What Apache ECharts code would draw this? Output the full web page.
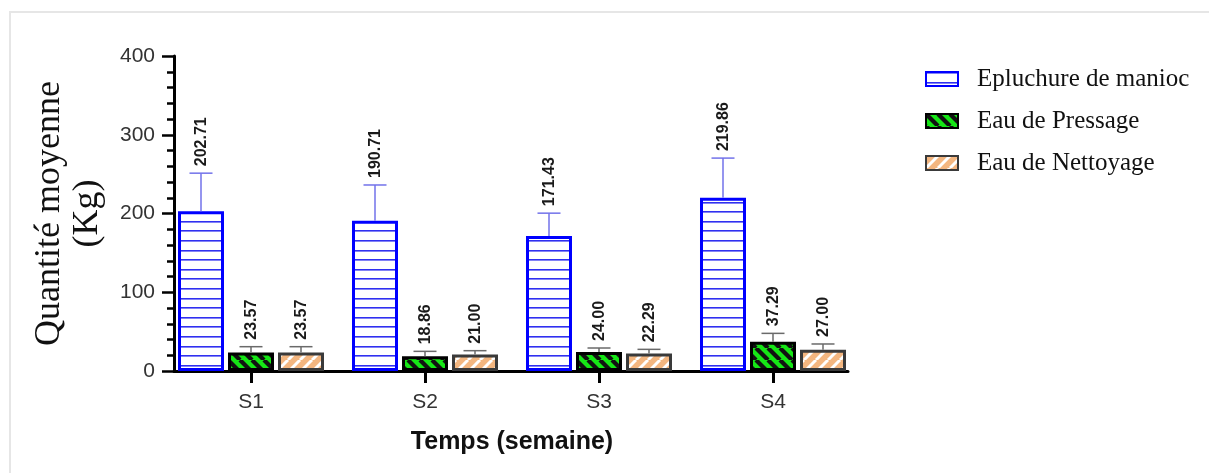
<!DOCTYPE html>
<html><head><meta charset="utf-8">
<script src="https://cdn.jsdelivr.net/npm/echarts@6/dist/echarts.min.js"></script>
<style>
html,body{margin:0;padding:0;background:#fff;}
#frame{position:absolute;left:9px;top:11px;width:1200px;height:462px;border-top:2px solid #e6e6e6;border-left:2px solid #e6e6e6;box-sizing:border-box;}
#chart{position:absolute;left:0;top:0;width:1209px;height:473px;}
</style></head><body>
<div id="frame"></div><div id="chart"></div>
<script>
// ---- data ----
const categories = ['S1', 'S2', 'S3', 'S4'];
const seriesNames = ['Epluchure de manioc', 'Eau de Pressage', 'Eau de Nettoyage'];
const epluchureMean = [202.71, 190.71, 171.43, 219.86];
const epluchureSD = [48.5, 45.5, 29.0, 50.5];
const pressageMean = [23.57, 18.86, 24.00, 37.29];
const pressageSD = [7.3, 6.1, 5.2, 10.5];
const nettoyageMean = [23.57, 21.00, 22.29, 27.00];
const nettoyageSD = [7.3, 4.8, 5.2, 7.3];
const yTicks = [0, 100, 200, 300, 400];

// ---- layout constants ----
const BAR_W = 46, BAR_GAP = 4, CAP = 23;

function makePattern(kind) {
  const c = document.createElement('canvas');
  if (kind === 'blue') {
    c.width = 8; c.height = 48;
    const g = c.getContext('2d');
    g.fillStyle = '#ffffff'; g.fillRect(0, 0, 8, 48);
    g.fillStyle = '#3030f0';
    for (let k = 0; k < 5; k++) { g.fillRect(0, Math.round(k * 9.6), 8, 1.6); }
  } else if (kind === 'green') {
    c.width = 12; c.height = 12;
    const g = c.getContext('2d');
    g.fillStyle = '#16e616'; g.fillRect(0, 0, 12, 12);
    g.strokeStyle = '#111'; g.lineWidth = 4.2;
    for (let x0 = -12; x0 <= 12; x0 += 12) { g.beginPath(); g.moveTo(x0, 0); g.lineTo(x0 + 12, 12); g.stroke(); }
  } else {
    c.width = 12; c.height = 12;
    const g = c.getContext('2d');
    g.fillStyle = '#f3b680'; g.fillRect(0, 0, 12, 12);
    g.strokeStyle = '#ffffff'; g.lineWidth = 3;
    for (let x0 = -12; x0 <= 12; x0 += 12) { g.beginPath(); g.moveTo(x0, 12); g.lineTo(x0 + 12, 0); g.stroke(); }
  }
  return { image: c, repeat: 'repeat' };
}

const barStyles = [
  { color: makePattern('blue'), borderColor: '#0000ff', borderWidth: 3 },
  { color: makePattern('green'), borderColor: '#000000', borderWidth: 3 },
  { color: makePattern('orange'), borderColor: '#3a3a3a', borderWidth: 3 }
];
const errColors = ['#7272ea', '#6a6a6a', '#6a6a6a'];
const means = [epluchureMean, pressageMean, nettoyageMean];
const sds = [epluchureSD, pressageSD, nettoyageSD];

function makeBar(i) {
  return {
    type: 'bar', name: seriesNames[i], xAxisIndex: 1, yAxisIndex: 1,
    barWidth: BAR_W, barGap: (BAR_GAP / BAR_W * 100).toFixed(1) + '%',
    itemStyle: barStyles[i], data: means[i], z: 3
  };
}
function makeErr(i) {
  return {
    type: 'custom', name: 'err' + i, xAxisIndex: 1, yAxisIndex: 1, z: 5, silent: true,
    encode: { x: 0, y: 1 },
    data: categories.map((c, k) => [k, means[i][k], sds[i][k]]),
    renderItem(params, api) {
      const ci = api.value(0), m = api.value(1), sd = api.value(2);
      const base = api.coord([ci, m]);
      const top = api.coord([ci, m + sd]);
      const cx = base[0] + (i - 1) * (BAR_W + BAR_GAP);
      return {
        type: 'group', children: [
          { type: 'line', shape: { x1: cx, y1: base[1], x2: cx, y2: top[1] }, style: { stroke: errColors[i], lineWidth: 1.5 } },
          { type: 'line', shape: { x1: cx - CAP / 2, y1: top[1], x2: cx + CAP / 2, y2: top[1] }, style: { stroke: errColors[i], lineWidth: 1.5 } },
          { type: 'text', x: cx + 1, y: top[1] - 7, rotation: Math.PI / 2,
            style: { text: m.toFixed(2), fill: '#1a1a1a', fontSize: 16, fontWeight: 'bold', fontFamily: 'Liberation Sans', align: 'left', verticalAlign: 'middle' } }
        ]
      };
    }
  };
}

const chart = echarts.init(document.getElementById('chart'), null, { renderer: 'canvas' });
chart.setOption({
  animation: false,
  backgroundColor: 'transparent',
  grid: [
    { left: 174, top: 56, width: 674, height: 315 },
    { left: 164, top: 56, width: 696, height: 315 }
  ],
  legend: {
    orient: 'vertical', left: 920, top: 61, itemWidth: 32, itemHeight: 14, itemGap: 16, icon: 'rect',
    data: seriesNames,
    textStyle: { fontFamily: 'Liberation Serif', fontSize: 25, color: '#111', lineHeight: 26, padding: [0, 0, 0, 14] }
  },
  xAxis: [
    { type: 'value', gridIndex: 0, min: 0, max: 1,
      axisLine: { show: true, lineStyle: { color: '#000', width: 3 } },
      axisTick: { show: false }, axisLabel: { show: false }, splitLine: { show: false } },
    { type: 'category', gridIndex: 1, data: categories,
      axisLine: { show: false },
      axisTick: { show: true, alignWithLabel: true, length: 12, lineStyle: { color: '#000', width: 3 } },
      axisLabel: { margin: 21, fontSize: 21, color: '#333', fontFamily: 'Liberation Sans' },
      name: 'Temps (semaine)', nameLocation: 'middle', nameGap: 59,
      nameTextStyle: { fontFamily: 'Liberation Sans', fontSize: 25, fontWeight: 'bold', color: '#111' } }
  ],
  yAxis: [
    { type: 'value', gridIndex: 0, min: yTicks[0], max: yTicks[yTicks.length - 1], interval: yTicks[1] - yTicks[0],
      axisLine: { show: true, lineStyle: { color: '#000', width: 3 } },
      axisTick: { show: true, length: 12, lineStyle: { color: '#000', width: 2.5 } },
      minorTick: { show: true, splitNumber: 5, length: 7, lineStyle: { color: '#000', width: 2.5 } },
      splitLine: { show: false },
      axisLabel: { margin: 19, fontSize: 21, color: '#333', fontFamily: 'Liberation Sans' },
      name: 'Quantité moyenne\n(Kg)', nameLocation: 'middle', nameGap: 67, nameRotate: 90,
      nameTextStyle: { fontFamily: 'Liberation Serif', fontSize: 36, color: '#111', lineHeight: 38 } },
    { type: 'value', gridIndex: 1, min: yTicks[0], max: yTicks[yTicks.length - 1], show: false }
  ],
  series: [makeBar(0), makeBar(1), makeBar(2), makeErr(0), makeErr(1), makeErr(2)]
});
</script>
</body></html>
